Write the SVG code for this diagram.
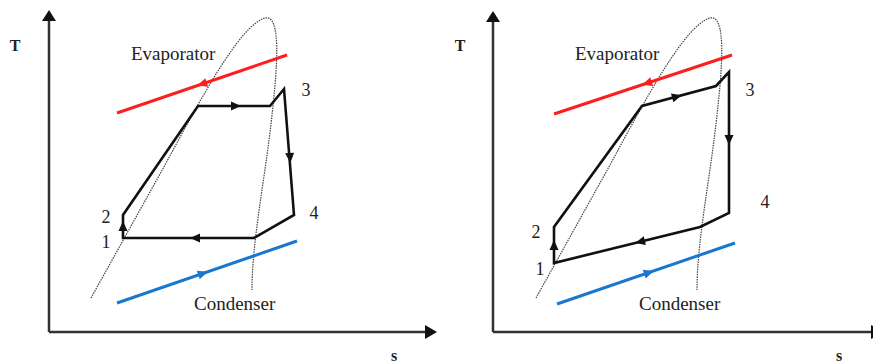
<svg xmlns="http://www.w3.org/2000/svg" width="873" height="364" viewBox="0 0 873 364">
<style>
.axis{stroke:#333;stroke-width:2.5;fill:none}
.head{fill:#111}
.dome{stroke:#444;stroke-width:1.2;fill:none;stroke-dasharray:1.5 1}
.cycle{stroke:#111;stroke-width:2.6;fill:none;stroke-linejoin:miter}
.evap{stroke:#ff1e1e;stroke-width:3;fill:none}
.cond{stroke:#1878d0;stroke-width:3;fill:none}
.lbl{font-family:"Liberation Serif","Times New Roman",serif;font-size:19px;fill:#222}
.num{font-family:"Liberation Serif","Times New Roman",serif;font-size:18px;fill:#222}
.ax{font-family:"Liberation Serif","Times New Roman",serif;font-size:16px;font-weight:bold;fill:#222}
</style>
<defs>
<path id="ah" d="M5,0 L-5,-4.5 L-5,4.5 Z"/>
</defs>
<rect width="873" height="364" fill="#fff"/>

<g id="left-panel">
  <g id="left-axes">
    <line class="axis" x1="49" y1="332" x2="49" y2="20"/>
    <path class="head" d="M49,10 L42,21 L56,21 Z"/>
    <line class="axis" x1="49" y1="332" x2="426" y2="332"/>
    <path class="head" d="M437,332 L425,325 L425,339 Z"/>
    <text class="ax" x="15" y="51" text-anchor="middle">T</text>
    <text class="ax" x="394" y="361" text-anchor="middle">s</text>
  </g>
  <g id="left-dome">
    <path class="dome" d="M91,298 L165,165 C200,100 240,25 265,18 C282,14 277,70 272,115 C265,180 252,240 252,290"/>
  </g>
  <g id="left-evaporator">
    <line class="evap" x1="117" y1="113" x2="287" y2="55"/>
    <use href="#ah" fill="#ff1e1e" transform="translate(202,84) rotate(161.2)"/>
    <text class="lbl" x="131" y="60">Evaporator</text>
  </g>
  <g id="left-condenser">
    <line class="cond" x1="117" y1="303" x2="297" y2="241"/>
    <use href="#ah" fill="#1878d0" transform="translate(203,273.4) rotate(-19)"/>
    <text class="lbl" x="194" y="310">Condenser</text>
  </g>
  <g id="left-cycle">
    <path class="cycle" d="M123,238 L123,215 L198,106 L270,106 L284,89 L294,215 L254,238 Z"/>
    <use href="#ah" fill="#111" transform="translate(123,226) rotate(-90)"/>
    <use href="#ah" fill="#111" transform="translate(236,106)"/>
    <use href="#ah" fill="#111" transform="translate(290,158) rotate(85.5)"/>
    <use href="#ah" fill="#111" transform="translate(195,238) rotate(180)"/>
  </g>
  <g id="left-labels">
    <text class="num" x="106" y="223" text-anchor="middle">2</text>
    <text class="num" x="106" y="248" text-anchor="middle">1</text>
    <text class="num" x="306" y="96" text-anchor="middle">3</text>
    <text class="num" x="314" y="219" text-anchor="middle">4</text>
  </g>
</g>

<g id="right-panel">
  <g id="right-axes">
    <line class="axis" x1="493" y1="332" x2="493" y2="21"/>
    <path class="head" d="M493,11 L486,22 L500,22 Z"/>
    <line class="axis" x1="493" y1="332" x2="872" y2="332"/>
    <path class="head" d="M884,332 L871,325 L871,339 Z"/>
    <text class="ax" x="460" y="51" text-anchor="middle">T</text>
    <text class="ax" x="839" y="361" text-anchor="middle">s</text>
  </g>
  <g id="right-dome">
    <path class="dome" transform="translate(445,0)" d="M91,298 L165,165 C200,100 240,25 265,18 C282,14 277,70 272,115 C265,180 252,240 252,290"/>
  </g>
  <g id="right-evaporator">
    <line class="evap" x1="554" y1="114" x2="732" y2="55"/>
    <use href="#ah" fill="#ff1e1e" transform="translate(647,83.2) rotate(161.7)"/>
    <text class="lbl" x="575" y="60">Evaporator</text>
  </g>
  <g id="right-condenser">
    <line class="cond" x1="557" y1="304" x2="735" y2="243"/>
    <use href="#ah" fill="#1878d0" transform="translate(649,272.5) rotate(-18.9)"/>
    <text class="lbl" x="639" y="310">Condenser</text>
  </g>
  <g id="right-cycle">
    <path class="cycle" d="M554,263 L554,227 L642,106 L716,86 L729,72 L729,213 L700,227 Z"/>
    <use href="#ah" fill="#111" transform="translate(554,245) rotate(-90)"/>
    <use href="#ah" fill="#111" transform="translate(677,96.5) rotate(-15.1)"/>
    <use href="#ah" fill="#111" transform="translate(729,140) rotate(90)"/>
    <use href="#ah" fill="#111" transform="translate(640,241.8) rotate(166.1)"/>
  </g>
  <g id="right-labels">
    <text class="num" x="536" y="238" text-anchor="middle">2</text>
    <text class="num" x="540" y="275" text-anchor="middle">1</text>
    <text class="num" x="750" y="96" text-anchor="middle">3</text>
    <text class="num" x="765" y="208" text-anchor="middle">4</text>
  </g>
</g>
</svg>
